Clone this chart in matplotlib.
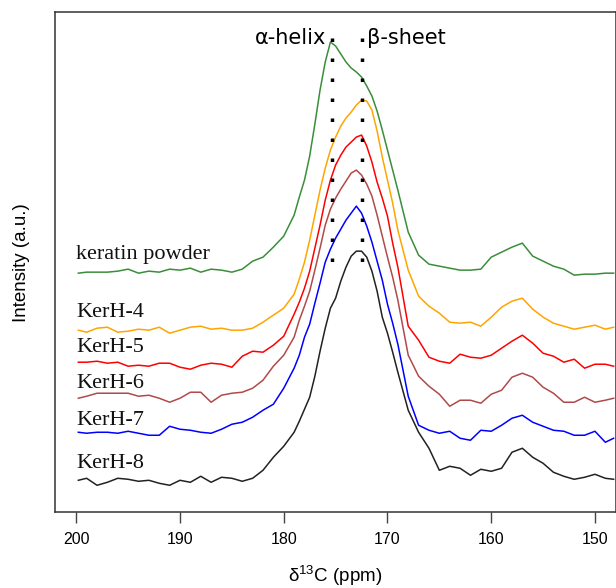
import matplotlib
matplotlib.use("Agg")
import matplotlib.pyplot as plt

plt.rcParams['mathtext.default'] = 'regular'

# chemical shift grid (ppm)
ppm = [199.8, 199, 198, 197, 196, 195, 194, 193, 192, 191, 190, 189, 188, 187, 186, 185, 184, 183, 182, 181, 180, 179,
       178.5, 178, 177.5, 177, 176.5, 176, 175.5, 175, 174.5, 174, 173.5, 173, 172.5, 172, 171.5, 171, 170.5, 170, 169.5,
       169, 168, 167, 166, 165, 164, 163, 162, 161, 160, 159, 158, 157, 156, 155, 154, 153, 152, 151, 150, 149, 148.2]

# stacked intensities (a.u.)
keratin = [239, 240, 240, 240, 241, 243, 239, 241, 240, 243, 242, 244, 240, 243, 242, 240, 243, 251, 255, 265, 276, 297,
           315, 332, 356, 388, 422, 450, 470, 466, 458, 450, 444, 440, 435, 426, 416, 401, 382, 362, 342,
           322, 280, 257, 248, 246, 244, 242, 242, 243, 255, 260, 265, 269, 256, 251, 246, 243, 237, 238, 238, 239, 239]
kerh4 = [182, 180, 184, 185, 180, 181, 183, 182, 185, 179, 182, 185, 186, 183, 184, 182, 182, 184, 190, 197, 204, 218,
         233, 250, 272, 297, 322, 344, 362, 375, 386, 394, 400, 407, 412, 411, 402, 381, 355, 332, 309,
         282, 242, 216, 206, 199, 190, 189, 190, 186, 195, 205, 211, 214, 203, 195, 189, 186, 183, 185, 187, 183, 185]
kerh5 = [150, 150, 151, 149, 150, 146, 147, 146, 149, 149, 145, 143, 147, 149, 148, 145, 156, 161, 160, 167, 176, 198,
         210, 224, 241, 264, 287, 312, 332, 347, 357, 365, 370, 375, 377, 366, 350, 330, 314, 296, 269,
         245, 186, 172, 155, 151, 149, 158, 155, 154, 157, 164, 171, 177, 169, 159, 156, 150, 153, 144, 148, 148, 146]
kerh6 = [114, 116, 119, 119, 119, 119, 116, 117, 114, 110, 114, 120, 120, 110, 117, 119, 120, 124, 132, 146, 157, 175,
         192, 206, 221, 242, 264, 287, 303, 314, 323, 331, 339, 342, 337, 328, 316, 297, 276, 255, 235,
         212, 157, 136, 126, 118, 106, 112, 112, 109, 118, 122, 135, 139, 135, 125, 119, 110, 110, 115, 110, 112, 114]
kerh7 = [80, 79, 80, 80, 79, 81, 79, 77, 77, 86, 83, 82, 80, 79, 83, 88, 90, 95, 102, 108, 124, 144,
         157, 175, 188, 209, 229, 250, 263, 274, 283, 292, 299, 306, 299, 286, 270, 251, 232, 208, 189,
         168, 116, 87, 82, 79, 81, 74, 72, 82, 81, 87, 94, 97, 90, 86, 82, 81, 77, 77, 81, 70, 74]
kerh8 = [32, 34, 27, 30, 34, 33, 31, 32, 29, 27, 32, 30, 36, 30, 35, 34, 31, 34, 42, 55, 66, 80,
         91, 103, 115, 136, 161, 184, 204, 214, 231, 245, 256, 261, 261, 255, 241, 221, 195, 179, 160,
         140, 102, 80, 64, 42, 46, 44, 37, 43, 41, 44, 60, 64, 55, 49, 40, 36, 33, 35, 38, 34, 33]

series = [keratin, kerh4, kerh5, kerh6, kerh7, kerh8]
names = ["keratin powder", "KerH-4", "KerH-5", "KerH-6", "KerH-7", "KerH-8"]
colors = ["#3a8e3a", "#ffa500", "#ff0000", "#b04a4a", "#0000ff", "#222222"]
label_y = [253, 195, 160, 124, 87, 44]

alpha_pos = 175.35
beta_pos = 172.45

fig = plt.figure(figsize=(6.16, 5.88), dpi=100)
ax = fig.add_axes([55 / 616, (588 - 512.3) / 588, (615.7 - 55) / 616, (512.3 - 12) / 588])

for ys, c in zip(series, colors):
    ax.plot(ppm, ys, color=c, lw=1.1)

for name, ly in zip(names, label_y):
    ax.text(200.0, ly, name, family="Liberation Serif", fontsize=16, ha="left", va="baseline", color="#111111")

# dotted marker lines for the two secondary structures
for xp in [alpha_pos, beta_pos]:
    ax.plot([xp, xp], [474.5, 248], color="black", lw=2.5, linestyle=(0, (1, 4.76)))

ax.text(alpha_pos + 0.55, 468, "α-helix", family="DejaVu Sans", fontsize=15, ha="right", va="baseline")
ax.text(beta_pos - 0.45, 468, "β-sheet", family="DejaVu Sans", fontsize=15, ha="left", va="baseline")

ax.set_xlim(202.05, 148.0)
ax.set_ylim(0, 500)
ax.set_xticks([200, 190, 180, 170, 160, 150])
ax.tick_params(axis="x", direction="out", length=8, width=1, color="#444444", pad=6, labelsize=11.5)
ax.tick_params(axis="y", left=False, labelleft=False)
for lab in ax.get_xticklabels():
    lab.set_family("Liberation Sans")
for sp in ax.spines.values():
    sp.set_color("#333333")
    sp.set_linewidth(1.1)

ax.set_xlabel("δ$^{13}$C (ppm)", family="Liberation Sans", fontsize=13.5, labelpad=12)
ax.set_ylabel("Intensity (a.u.)", family="Liberation Sans", fontsize=13.5, labelpad=18)

fig.savefig("out.png", dpi=100)
